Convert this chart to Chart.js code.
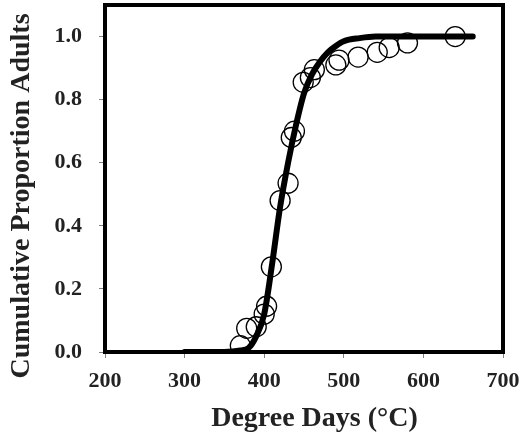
<!DOCTYPE html>
<html>
<head>
<meta charset="utf-8">
<script src="https://cdn.jsdelivr.net/npm/chart.js@4/dist/chart.umd.min.js"></script>
<style>
html,body{margin:0;padding:0;background:#fff;}
#wrap{width:529px;height:439px;}
</style>
</head>
<body>
<div id="wrap"><canvas id="c" width="529" height="439"></canvas></div>
<script>
// Observed data (degree days, cumulative proportion)
const obsX = [370, 378, 390, 400, 403, 409, 420, 430, 434, 438, 449, 458, 463, 490, 494, 518, 542, 557, 580, 640];
const obsY = [0.02, 0.075, 0.08, 0.12, 0.145, 0.27, 0.48, 0.535, 0.68, 0.70, 0.855, 0.87, 0.895, 0.91, 0.925, 0.935, 0.95, 0.965, 0.98, 1.0];
// Fitted curve
const fitX = [300, 340, 360, 370, 380, 390, 400, 410, 420, 430, 440, 450, 460, 470, 480, 490, 500, 520, 540, 580, 620, 662];
const fitY = [0, 0, 0.002, 0.005, 0.012, 0.05, 0.12, 0.28, 0.46, 0.6, 0.72, 0.82, 0.88, 0.92, 0.95, 0.97, 0.985, 0.995, 1.0, 1.0, 1.0, 1.0];
const xTicks = [200, 300, 400, 500, 600, 700];
const yTicks = [0, 0.2, 0.4, 0.6, 0.8, 1.0];

const serif = "'Liberation Serif', 'Times New Roman', serif";
const NB = '\u00A0';

const frame = {
  id: 'frame',
  afterDatasetsDraw(chart) {
    const a = chart.chartArea, ctx = chart.ctx;
    ctx.save();
    ctx.strokeStyle = '#000';
    ctx.lineWidth = 4;
    ctx.strokeRect(a.left, a.top, a.right - a.left, a.bottom - a.top);
    ctx.restore();
  }
};

new Chart(document.getElementById('c'), {
  type: 'scatter',
  data: {
    datasets: [
      {
        label: 'fit',
        data: fitX.map((x, i) => ({x, y: fitY[i]})),
        showLine: true,
        borderColor: '#000',
        borderWidth: 6,
        pointRadius: 0,
        cubicInterpolationMode: 'monotone',
        borderCapStyle: 'round',
        fill: false,
        order: 2
      },
      {
        label: 'obs',
        data: obsX.map((x, i) => ({x, y: obsY[i]})),
        showLine: false,
        pointStyle: 'circle',
        pointRadius: 10,
        pointBorderWidth: 1.3,
        pointBorderColor: '#000',
        pointBackgroundColor: 'rgba(0,0,0,0)',
        order: 1
      }
    ]
  },
  options: {
    responsive: false,
    animation: false,
    layout: {autoPadding: false, padding: {top: 5, right: 26, left: 0, bottom: 0}},
    plugins: {legend: {display: false}, tooltip: {enabled: false}},
    scales: {
      x: {
        type: 'linear',
        min: 200, max: 700,
        afterFit(s) { s.height = 87; s.paddingLeft = 0; s.paddingRight = 0; },
        afterBuildTicks(s) { s.ticks = xTicks.map(v => ({value: v})); },
        grid: {drawOnChartArea: false, drawTicks: true, tickLength: 6, color: '#808080'},
        border: {display: false},
        ticks: {
          color: '#222',
          padding: 10,
          font: {family: serif, size: 22, weight: 'bold'},
          callback: v => String(v)
        },
        title: {
          display: true,
          text: NB + NB + NB + 'Degree Days (°C)',
          color: '#222',
          font: {family: serif, size: 28, weight: 'bold'},
          padding: {top: 0, bottom: 3}
        }
      },
      y: {
        type: 'linear',
        min: 0, max: 1.1,
        afterFit(s) { s.width = 105; s.paddingTop = 0; s.paddingBottom = 0; },
        afterBuildTicks(s) { s.ticks = yTicks.map(v => ({value: v})); },
        grid: {drawOnChartArea: false, drawTicks: true, tickLength: 6, color: '#808080'},
        border: {display: false},
        ticks: {
          color: '#222',
          padding: 17,
          font: {family: serif, size: 22, weight: 'bold'},
          callback: v => Number(v).toFixed(1)
        },
        title: {
          display: true,
          text: 'Cumulative Proportion Adults' + NB + NB + NB + NB + NB,
          color: '#222',
          font: {family: serif, size: 28, weight: 'bold'},
          padding: {top: 5, bottom: 0}
        }
      }
    }
  },
  plugins: [frame]
});
</script>
</body>
</html>
